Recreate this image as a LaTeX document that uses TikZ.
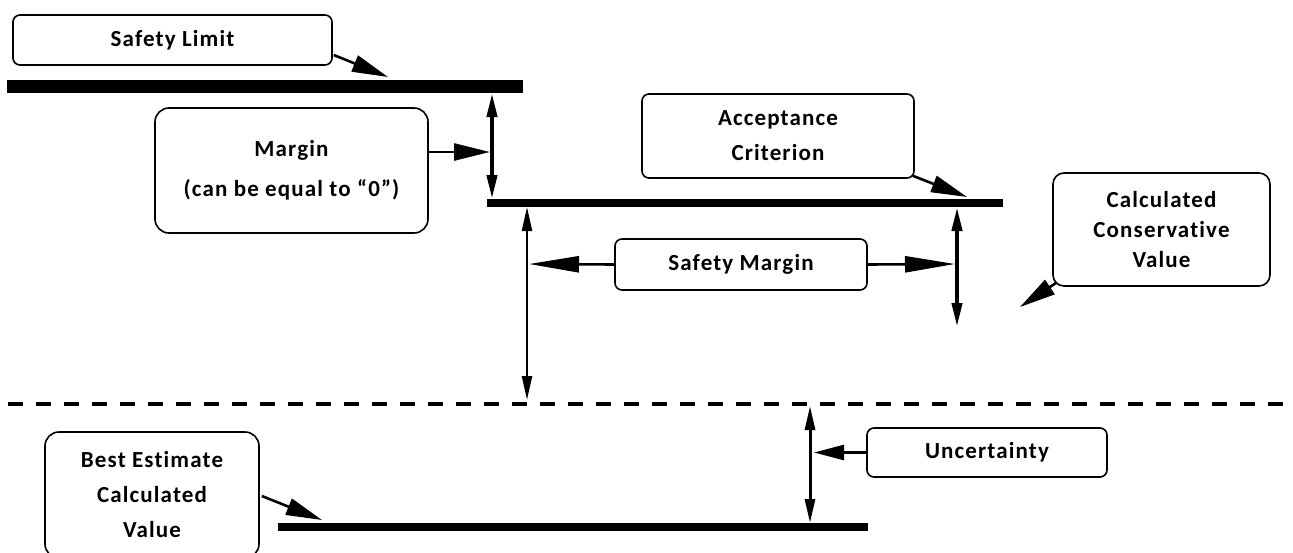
\documentclass[tikz,border=0pt]{standalone}
\usepackage{fontspec}
\setmainfont{Carlito}[LetterSpace=5, Ligatures=NoCommon]
\usetikzlibrary{arrows.meta,calc}

\tikzset{
  estilo diagrama/.style={
      x=1pt, y=-1pt,
      caja/.style={draw, line width=1.6pt, rounded corners=7pt, align=center,
          inner sep=0pt, font={\bfseries\fontsize{23}{35}\selectfont}},
      flecha/.style={line width=2.6pt, -{Triangle[length=36pt, width=17pt]}},
      doble/.style={line width=##1, {Triangle[length=24pt, width=10pt]}-{Triangle[length=24pt, width=10pt]}},
      barra/.style={line width=##1, line cap=butt},
    },
}

\begin{document}
\begin{tikzpicture}[estilo diagrama]
    \useasboundingbox (0,0) rectangle (1293,552);
    \clip (0,0) rectangle (1293,552);

    % cajas
    \node[caja, minimum width=319pt, minimum height=50pt] (limite) at (172.5,40) {Safety Limit};
    \node[caja, rounded corners=14pt, minimum width=273pt, minimum height=125pt, font={\bfseries\fontsize{23}{40}\selectfont}] (margen) at (291.5,170.5) {Margin\\(can be equal to “0”)};
    \node[caja, minimum width=272pt, minimum height=84pt] (criterio) at (778,136) {Acceptance\\Criterion};
    \node[caja, minimum width=252pt, minimum height=51pt] (segura) at (741,264.5) {Safety Margin};
    \node[caja, rounded corners=11pt, minimum width=217pt, minimum height=113pt, font={\bfseries\fontsize{23}{30}\selectfont}] (conserv) at (1161.5,229.5) {Calculated\\Conservative\\Value};
    \node[caja, minimum width=240pt, minimum height=49pt] (incert) at (987,452.5) {Uncertainty};
    \node[caja, rounded corners=14pt, minimum width=214pt, minimum height=126pt] (mejor) at (152,495) {Best Estimate\\Calculated\\Value};

    % barras
    \draw[barra=13pt] (7,86.5) -- (523,86.5);
    \draw[barra=8pt] (487,203) -- (1003,203);
    \draw[barra=8pt] (278,526.5) -- (868,526.5);
    \draw[barra=4pt, dash pattern=on 15pt off 13pt] (8,404) -- (1293,404);

    % puntos de llegada
    \coordinate (p-limite) at (388,77);
    \coordinate (p-margen) at (490,152);
    \coordinate (p-criterio) at (967,197);
    \coordinate (p-seg-izq) at (529,264);
    \coordinate (p-seg-der) at (955,264);
    \coordinate (p-conserv) at (1020,307);
    \coordinate (p-incert) at (814,452.5);
    \coordinate (p-mejor) at (322,520);

    \draw[flecha] ($(limite.east)+(1,15)$) -- (p-limite);
    \draw[flecha] ($(margen.east)+(0,-18.5)$) -- (p-margen);
    \draw[flecha] ($(criterio.south east)+(-2,-3)$) -- (p-criterio);
    \draw[flecha, -{Triangle[length=50pt, width=16pt]}] (segura.west) -- (p-seg-izq);
    \draw[flecha, -{Triangle[length=50pt, width=16pt]}] (segura.east) -- (p-seg-der);
    \draw[flecha] ($(conserv.south west)+(4,-4)$) -- (p-conserv);
    \draw[flecha, -{Triangle[length=30pt, width=15pt]}] (incert.west) -- (p-incert);
    \draw[flecha] ($(mejor.east)+(2,1)$) -- (p-mejor);

    % cotas verticales
    \coordinate (m-arriba) at (492,93);
    \coordinate (m-abajo) at (492,199);
    \coordinate (s-arriba) at (527,207);
    \coordinate (s-abajo) at (527,400);
    \coordinate (c-arriba) at (957,207);
    \coordinate (c-abajo) at (957,327);
    \coordinate (u-arriba) at (810,406);
    \coordinate (u-abajo) at (810,523);

    \draw[doble=4pt] (m-arriba) -- (m-abajo);
    \draw[doble=2.4pt] (s-arriba) -- (s-abajo);
    \draw[doble=4pt] (c-arriba) -- (c-abajo);
    \draw[doble=3pt] (u-arriba) -- (u-abajo);
\end{tikzpicture}
\end{document}
